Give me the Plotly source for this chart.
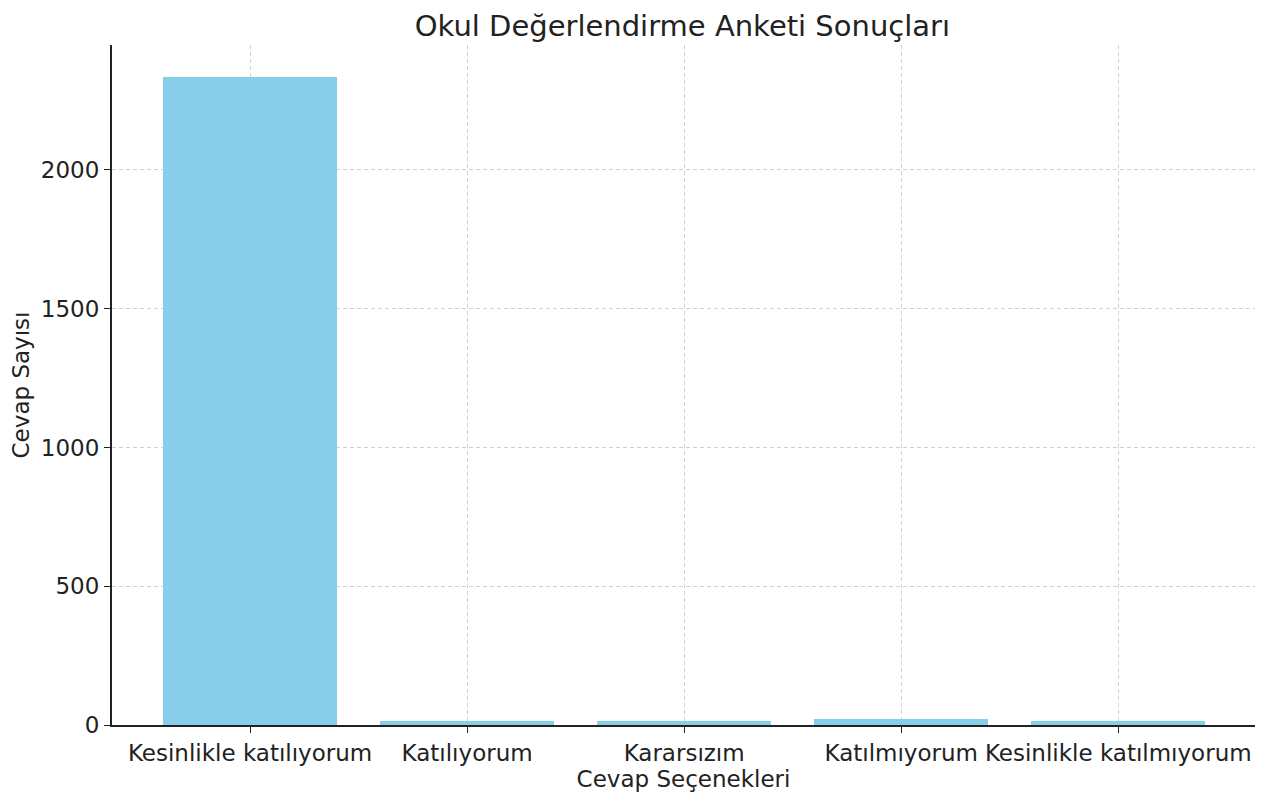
import plotly.graph_objects as go

categories = ["Kesinlikle katılıyorum", "Katılıyorum", "Kararsızım", "Katılmıyorum", "Kesinlikle katılmıyorum"]
counts = [2335, 15, 15, 20, 15]
y_ticks = [0, 500, 1000, 1500, 2000]

x_pos = list(range(len(categories)))

fig = go.Figure()
fig.add_trace(go.Bar(
    x=x_pos, y=counts, width=0.8,
    marker=dict(color="#87CEEB", line=dict(width=0)),
))

font_family = "DejaVu Sans"
fig.update_layout(
    width=1270, height=796,
    margin=dict(l=104, r=23, t=37, b=79, autoexpand=False),
    paper_bgcolor="white", plot_bgcolor="white",
    title=dict(text="Okul Değerlendirme Anketi Sonuçları", x=0.531, xanchor="center",
               y=0.978, yanchor="middle", font=dict(family=font_family, size=29, color="#222")),
    font=dict(family=font_family, color="#222"),
    showlegend=False,
    bargap=0,
)
fig.update_xaxes(
    range=[-0.636, 4.63], tickvals=x_pos, ticktext=categories,
    tickfont=dict(size=23), ticks="outside", ticklen=6, tickcolor="#222",
    showline=True, linecolor="#222", linewidth=2, mirror=False,
    showgrid=True, gridcolor="#d0d0d0", griddash="4px,3px", gridwidth=1,
    title=dict(text="Cevap Seçenekleri", font=dict(size=23), standoff=0),
    zeroline=False, automargin=False,
)
fig.update_yaxes(
    range=[0, 2450], tickvals=y_ticks, ticktext=[str(v) for v in y_ticks],
    tickfont=dict(size=23), ticks="outside", ticklen=6, tickcolor="#222",
    showline=True, linecolor="#222", linewidth=2,
    showgrid=True, gridcolor="#d0d0d0", griddash="4px,3px", gridwidth=1,
    title=dict(text="Cevap Sayısı", font=dict(size=23), standoff=8),
    zeroline=False, automargin=False,
)
fig.write_html("out.html")
